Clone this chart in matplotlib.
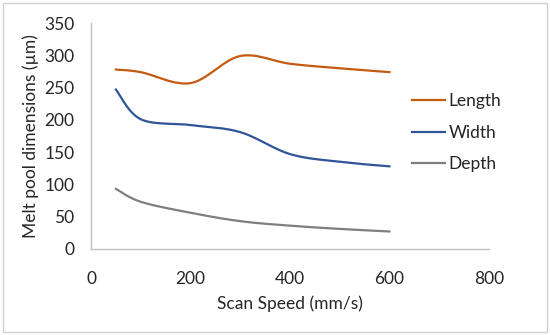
import numpy as np
import matplotlib.pyplot as plt
from matplotlib.patches import Rectangle

speed = [50, 100, 200, 300, 400, 500, 600]
length = [278, 274, 257, 299, 287, 280, 274]
width = [247, 201, 192, 181, 147, 135, 128]
depth = [93, 73, 56, 43, 36, 31, 27]

series = [('Length', length, '#C55A11'),
          ('Width', width, '#2F5597'),
          ('Depth', depth, '#7F7F7F')]


def smooth(x, y, n=40):
    # excel-like smoothed line (catmull-rom as bezier), done in scaled coords
    p = np.column_stack([np.asarray(x, float) / 800, np.asarray(y, float) / 350])
    pts = np.vstack([p[0], p, p[-1]])
    out = []
    t = np.linspace(0, 1, n)[:, None]
    for i in range(1, len(pts) - 2):
        p0, p1, p2, p3 = pts[i - 1], pts[i], pts[i + 1], pts[i + 2]
        c1 = p1 + (p2 - p0) / 6
        c2 = p2 - (p3 - p1) / 6
        seg = ((1 - t) ** 3) * p1 + 3 * ((1 - t) ** 2) * t * c1 + 3 * (1 - t) * t ** 2 * c2 + t ** 3 * p2
        out.append(seg)
    out = np.vstack(out)
    return out[:, 0] * 800, out[:, 1] * 350


plt.rcParams['font.family'] = ['Lato', 'DejaVu Sans']

fig = plt.figure(figsize=(5.5, 3.35), dpi=100)
ax = fig.add_axes([0.1655, 0.257, 0.7235, 0.674])

for name, vals, col in series:
    xs, ys = smooth(speed, vals)
    ax.plot(xs, ys, color=col, lw=1.6, label=name)

ax.set_xlim(0, 800)
ax.set_ylim(0, 350)
ax.set_xticks(range(0, 801, 200))
ax.set_yticks(range(0, 351, 50))
for s in ['top', 'right']:
    ax.spines[s].set_visible(False)
for s in ['left', 'bottom']:
    ax.spines[s].set_color('#bfbfbf')
    ax.spines[s].set_linewidth(1.0)
ax.tick_params(length=0, labelsize=12.5, colors='#262626')
ax.tick_params(axis='x', pad=16)
ax.tick_params(axis='y', pad=12)
ax.set_xlabel('Scan Speed (mm/s)', fontsize=12.5, color='#262626', labelpad=6)
ax.set_ylabel('Melt pool dimensions (µm)', fontsize=12.5, color='#262626', labelpad=4)

ax.legend(loc='upper left', bbox_to_anchor=(0.768, 0.758), frameon=False,
          fontsize=12.5, handlelength=1.9, handletextpad=0.2, labelspacing=0.88,
          labelcolor='#262626')

fig.patches.append(Rectangle((0.006, 0.009), 0.988, 0.982, transform=fig.transFigure,
                             fill=False, edgecolor='#d0d0d0', lw=1))

fig.savefig('out.png', dpi=100)
